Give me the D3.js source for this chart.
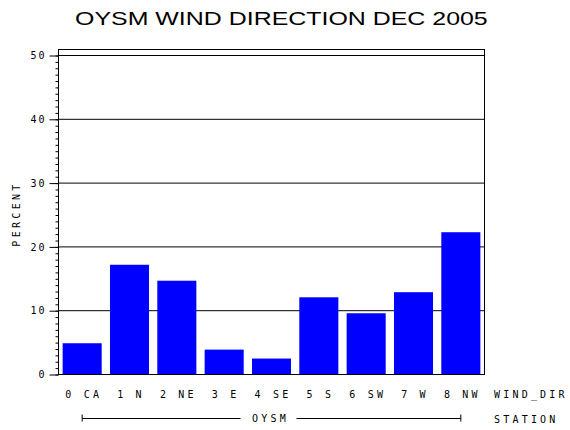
<!DOCTYPE html>
<html lang="en">
<head>
  <meta charset="UTF-8">
  <title>OYSM Wind Direction Dec 2005</title>
  <script src="https://d3js.org/d3.v7.min.js"></script>
  <style>
    body {
      margin: 0;
      padding: 0;
      background: #fff;
    }
    svg text {
      font-family: 'DejaVu Sans Mono', monospace;
      font-size: 10px;
      fill: #000;
    }
    .title {
      font-family: 'Liberation Sans', Arial, sans-serif !important;
      font-size: 17.5px !important;
    }
  </style>
</head>
<body>
  <div id="chart"></div>
  <script>
    // Données
    const dirLabels = ["0 CA", "1 N", "2 NE", "3 E", "4 SE", "5 S", "6 SW", "7 W", "8 NW"];
    const percent = [4.9, 17.2, 14.7, 3.9, 2.5, 12.1, 9.6, 12.9, 22.3];
    const yTicks = [0, 10, 20, 30, 40, 50];
    const minorTicks = d3.range(0, 51, 1);
    const station = "OYSM";

    const width = 570, height = 430;
    const plotLeft = 58.5, plotRight = 484.5, plotTop = 49.5, plotBottom = 374.5;

    const svg = d3.select('#chart')
      .append('svg')
      .attr('width', width)
      .attr('height', height);

    const x = d3.scaleBand()
      .domain(dirLabels)
      .range([plotLeft, plotRight])
      .paddingInner(0.175)
      .paddingOuter(0.0875);

    const y = d3.scaleLinear()
      .domain([0, 50])
      .range([plotBottom, 55.5]);

    // titre, étiré horizontalement comme dans l'original
    const title = svg.append('text')
      .attr('class', 'title')
      .text('OYSM WIND DIRECTION DEC 2005');
    const tw = title.node().getComputedTextLength();
    title.attr('transform', `translate(75,25) scale(${413 / tw},1)`);

    // lignes de grille
    svg.selectAll('.grid')
      .data(yTicks.filter(d => d > 0))
      .enter()
      .append('line')
      .attr('x1', plotLeft)
      .attr('x2', plotRight)
      .attr('y1', d => y(d))
      .attr('y2', d => y(d))
      .attr('stroke', '#000');

    // barres
    svg.selectAll('rect.bar')
      .data(percent)
      .enter()
      .append('rect')
      .attr('class', 'bar')
      .attr('x', (d, i) => x(dirLabels[i]))
      .attr('y', d => y(d))
      .attr('width', x.bandwidth())
      .attr('height', d => y(0) - y(d))
      .attr('fill', '#0000ff');

    // cadre
    svg.append('rect')
      .attr('x', plotLeft)
      .attr('y', plotTop)
      .attr('width', plotRight - plotLeft)
      .attr('height', plotBottom - plotTop)
      .attr('fill', 'none')
      .attr('stroke', '#000');

    // axe vertical
    const yAxis = svg.append('g')
      .attr('transform', `translate(${plotLeft},0)`)
      .call(d3.axisLeft(y).tickValues(yTicks).tickSize(9).tickPadding(3).tickFormat(d3.format('d')));
    yAxis.select('.domain').remove();
    yAxis.selectAll('text')
      .style('letter-spacing', '2px')
      .style('font-family', "'DejaVu Sans Mono', monospace")
      .style('font-size', '10px');

    const yMinor = svg.append('g')
      .attr('transform', `translate(${plotLeft},0)`)
      .call(d3.axisLeft(y).tickValues(minorTicks).tickSize(3).tickFormat(''));
    yMinor.select('.domain').remove();

    svg.append('text')
      .attr('transform', `translate(20,${(plotTop + plotBottom) / 2 + 2}) rotate(-90)`)
      .attr('text-anchor', 'middle')
      .style('letter-spacing', '3.3px')
      .text('PERCENT');

    // étiquettes des catégories
    svg.selectAll('.xlab')
      .data(dirLabels)
      .enter()
      .append('text')
      .attr('x', d => x(d) + x.bandwidth() / 2 + 1.5)
      .attr('y', 398)
      .attr('text-anchor', 'middle')
      .style('letter-spacing', '3.2px')
      .text(d => d);

    svg.append('text')
      .attr('x', 494)
      .attr('y', 398)
      .style('letter-spacing', '3.2px')
      .text('WIND_DIR');

    // station
    const x0 = x(dirLabels[0]) + x.bandwidth() / 2;
    const x1 = x(dirLabels[dirLabels.length - 1]) + x.bandwidth() / 2;
    const xm = (x0 + x1) / 2 - 3;
    const gy = 418.5;
    const g = svg.append('g').attr('stroke', '#000');
    g.append('line').attr('x1', x0).attr('x2', xm - 28).attr('y1', gy).attr('y2', gy);
    g.append('line').attr('x1', xm + 28).attr('x2', x1).attr('y1', gy).attr('y2', gy);
    g.append('line').attr('x1', x0).attr('x2', x0).attr('y1', gy - 4).attr('y2', gy + 3);
    g.append('line').attr('x1', x1).attr('x2', x1).attr('y1', gy - 4).attr('y2', gy + 3);

    svg.append('text')
      .attr('x', xm + 2)
      .attr('y', 422)
      .attr('text-anchor', 'middle')
      .style('letter-spacing', '3.2px')
      .text(station);

    svg.append('text')
      .attr('x', 494)
      .attr('y', 423)
      .style('letter-spacing', '3.2px')
      .text('STATION');
  </script>
</body>
</html>
